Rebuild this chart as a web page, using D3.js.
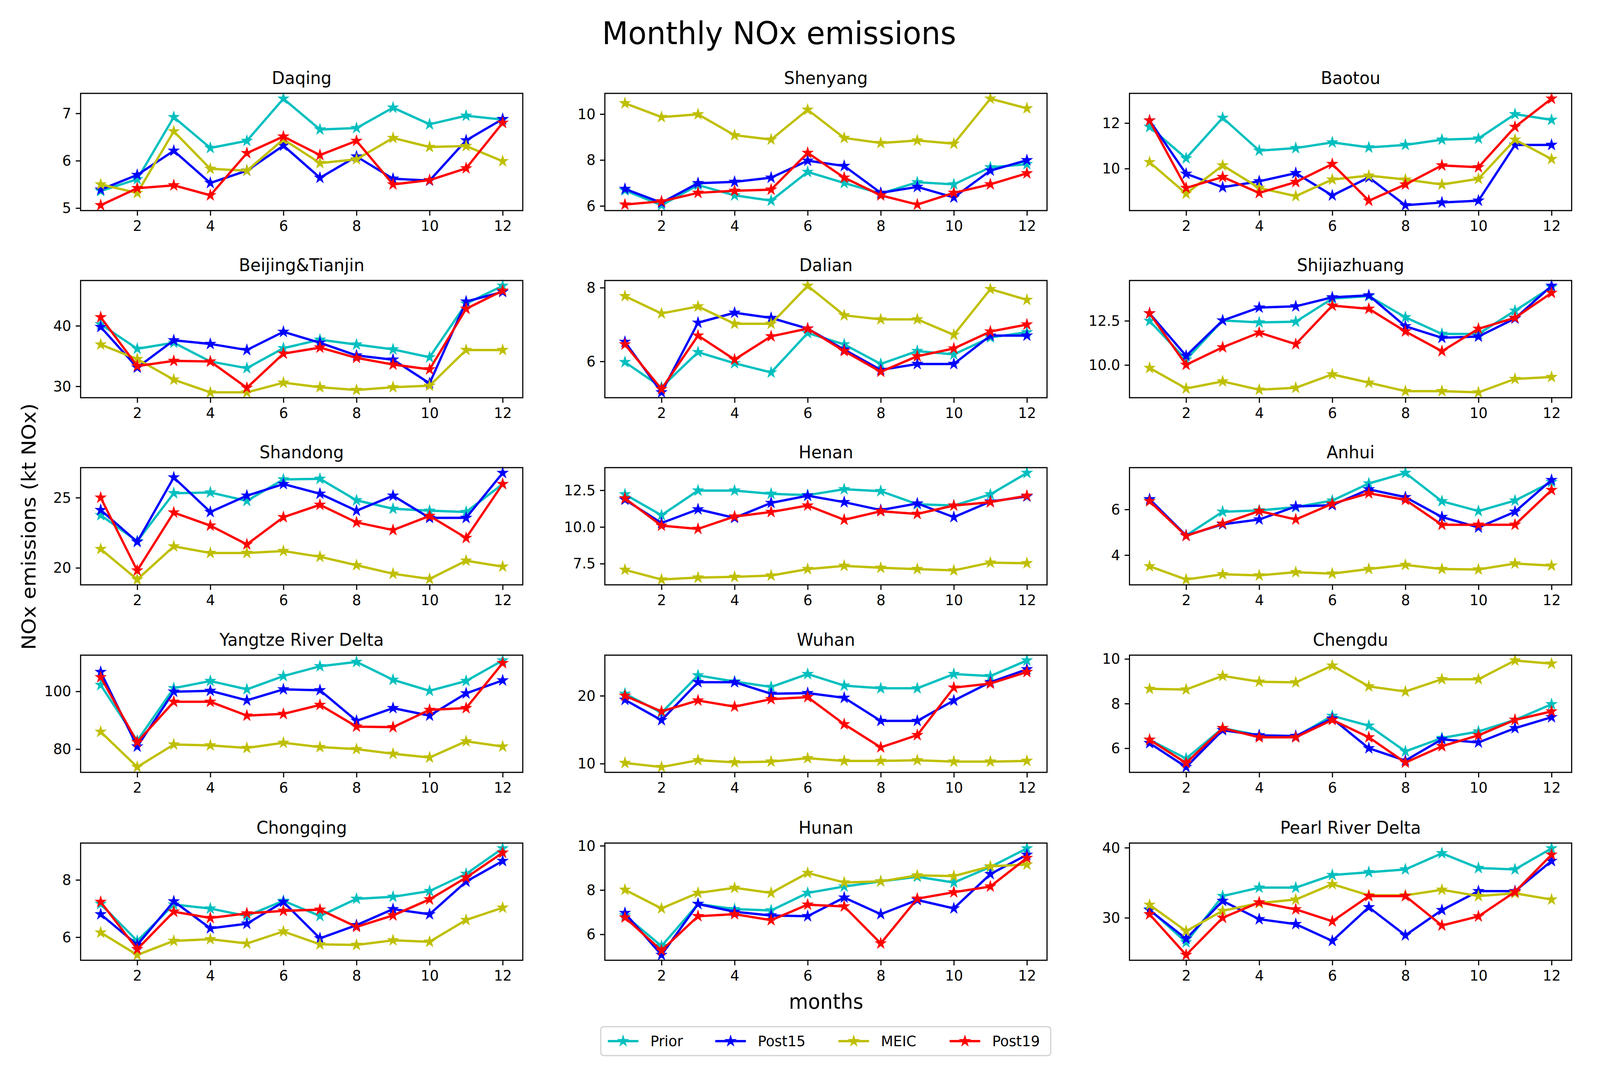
<!DOCTYPE html>
<html><head><meta charset="utf-8">
<script src="https://cdn.jsdelivr.net/npm/d3@7/dist/d3.min.js"></script>
<style>
html,body{margin:0;padding:0;width:100%;height:100%;overflow:hidden;background:#fff}
svg{display:block;width:100vw;height:100vh}
text{font-family:"DejaVu Sans",sans-serif;fill:#000}
</style>
</head><body>
<svg id="chart" viewBox="0 0 4288 2744" preserveAspectRatio="none"></svg>
<script>
// ---------------- data ----------------
const months = [1,2,3,4,5,6,7,8,9,10,11,12];
const xTickLabels = ["2","4","6","8","10","12"];
const regions = ["Daqing","Shenyang","Baotou","Beijing&Tianjin","Dalian","Shijiazhuang",
  "Shandong","Henan","Anhui","Yangtze River Delta","Wuhan","Chengdu","Chongqing","Hunan","Pearl River Delta"];
const yTickLabels = [["5","6","7"],["6","8","10"],["10","12"],["30","40"],["6","8"],["10.0","12.5"],
  ["20","25"],["7.5","10.0","12.5"],["4","6"],["80","100"],["10","20"],["6","8","10"],["6","8"],["6","8","10"],["30","40"]];
const seriesNames = ["Prior","Post15","MEIC","Post19"];

const prior = [
  [5.36,5.61,6.92,6.27,6.42,7.31,6.66,6.69,7.12,6.77,6.95,6.87],
  [6.68,6.03,6.91,6.46,6.23,7.48,7.00,6.54,7.03,6.94,7.68,7.82],
  [11.83,10.45,12.23,10.79,10.90,11.15,10.93,11.04,11.27,11.32,12.39,12.14],
  [40.25,36.2,37.2,34.1,33.0,36.3,37.7,36.9,36.1,34.8,43.65,46.6],
  [5.98,5.30,6.25,5.95,5.70,6.77,6.46,5.93,6.28,6.19,6.65,6.79],
  [12.49,10.30,12.52,12.41,12.45,13.76,13.90,12.70,11.76,11.76,13.07,14.41],
  [23.75,21.9,25.32,25.37,24.77,26.3,26.34,24.81,24.21,24.07,23.98,25.97],
  [12.22,10.80,12.48,12.48,12.26,12.17,12.57,12.44,11.55,11.46,12.22,13.68],
  [6.42,4.86,5.90,5.96,6.10,6.39,7.14,7.60,6.36,5.93,6.39,7.20],
  [102.2,82.9,101.1,103.6,100.7,105.3,108.7,110.2,104.0,100.2,103.6,110.7],
  [20.3,17.5,23.0,22.1,21.3,23.2,21.5,21.1,21.1,23.2,22.9,25.2],
  [6.38,5.54,6.90,6.58,6.52,7.45,7.01,5.86,6.46,6.75,7.27,7.97],
  [7.16,5.87,7.14,7.00,6.74,7.27,6.74,7.34,7.41,7.61,8.21,9.10],
  [6.85,5.47,7.37,7.14,7.08,7.87,8.16,8.39,8.60,8.34,9.04,9.88],
  [31.2,26.5,33.1,34.3,34.3,36.1,36.5,36.9,39.2,37.1,36.9,39.9]
];
const post15 = [
  [5.39,5.70,6.21,5.53,5.79,6.32,5.64,6.09,5.62,5.58,6.43,6.88],
  [6.74,6.14,6.99,7.05,7.23,7.97,7.74,6.57,6.83,6.37,7.54,7.99],
  [12.11,9.77,9.18,9.44,9.80,8.82,9.61,8.39,8.51,8.59,11.04,11.04],
  [39.8,33.1,37.6,37.0,36.0,39.0,37.2,35.1,34.4,30.5,44.0,45.6],
  [6.53,5.16,7.05,7.32,7.18,6.89,6.32,5.77,5.93,5.93,6.70,6.70],
  [12.92,10.52,12.52,13.25,13.32,13.83,13.94,12.19,11.54,11.61,12.63,14.48],
  [24.12,21.85,26.44,23.98,25.14,25.97,25.28,24.07,25.14,23.56,23.56,26.76],
  [11.86,10.27,11.20,10.62,11.64,12.13,11.69,11.15,11.60,10.67,11.73,12.08],
  [6.45,4.86,5.35,5.56,6.13,6.19,6.88,6.54,5.67,5.21,5.90,7.29],
  [106.7,80.9,99.9,100.2,96.9,100.7,100.4,89.8,94.2,91.6,99.3,103.8],
  [19.4,16.4,22.0,22.0,20.3,20.4,19.7,16.3,16.3,19.3,22.0,23.9],
  [6.23,5.16,6.81,6.58,6.55,7.33,6.00,5.45,6.40,6.26,6.90,7.39],
  [6.80,5.73,7.25,6.31,6.47,7.23,5.96,6.42,6.98,6.80,7.94,8.66],
  [6.96,5.07,7.37,7.02,6.85,6.82,7.66,6.91,7.55,7.17,8.72,9.59],
  [31.1,27.0,32.4,29.8,29.1,26.7,31.5,27.5,31.1,33.8,33.8,38.1]
];
const meic = [
  [5.50,5.32,6.62,5.83,5.79,6.45,5.95,6.03,6.48,6.29,6.31,5.99],
  [10.47,9.87,9.99,9.08,8.89,10.19,8.96,8.74,8.85,8.71,10.67,10.25],
  [10.28,8.90,10.14,9.15,8.79,9.52,9.69,9.52,9.30,9.55,11.27,10.42],
  [36.9,34.5,31.1,29.0,29.0,30.6,29.85,29.4,29.85,30.1,36.0,36.0],
  [7.77,7.30,7.49,7.02,7.02,8.05,7.25,7.14,7.14,6.72,7.96,7.67],
  [9.83,8.67,9.07,8.60,8.71,9.47,9.00,8.52,8.52,8.45,9.21,9.32],
  [21.34,19.17,21.53,21.06,21.06,21.2,20.79,20.19,19.58,19.21,20.51,20.09],
  [7.08,6.42,6.55,6.60,6.69,7.13,7.35,7.22,7.13,7.04,7.57,7.53],
  [3.51,2.93,3.16,3.11,3.25,3.19,3.39,3.57,3.39,3.37,3.63,3.54],
  [86.0,73.8,81.6,81.3,80.4,82.2,80.7,80.0,78.4,77.1,82.7,80.9],
  [10.1,9.5,10.5,10.2,10.3,10.8,10.4,10.4,10.5,10.3,10.3,10.4],
  [8.66,8.63,9.24,8.98,8.95,9.70,8.77,8.54,9.09,9.09,9.93,9.79],
  [6.16,5.38,5.87,5.93,5.78,6.20,5.75,5.73,5.89,5.84,6.60,7.03],
  [8.01,7.17,7.87,8.10,7.87,8.77,8.34,8.39,8.66,8.63,9.07,9.15],
  [31.85,28.1,31.0,32.1,32.6,34.8,33.2,33.2,34.0,33.1,33.5,32.6]
];
const post19 = [
  [5.06,5.42,5.48,5.27,6.16,6.51,6.12,6.42,5.50,5.59,5.84,6.80],
  [6.06,6.20,6.57,6.66,6.71,8.31,7.23,6.46,6.06,6.57,6.94,7.42],
  [12.11,9.15,9.63,8.93,9.41,10.20,8.59,9.30,10.14,10.06,11.83,13.07],
  [41.4,33.35,34.2,34.1,29.75,35.4,36.4,34.7,33.6,32.8,42.8,45.8],
  [6.46,5.25,6.70,6.05,6.68,6.89,6.28,5.72,6.14,6.35,6.81,7.00],
  [12.92,10.01,11.00,11.83,11.18,13.36,13.18,11.90,10.78,12.05,12.67,14.08],
  [25.0,19.81,23.94,23.01,21.67,23.61,24.49,23.24,22.69,23.70,22.13,25.97],
  [11.95,10.09,9.87,10.71,11.02,11.46,10.49,11.07,10.89,11.46,11.69,12.13],
  [6.36,4.84,5.38,5.93,5.56,6.25,6.71,6.42,5.33,5.33,5.33,6.85],
  [104.9,82.4,96.4,96.4,91.6,92.2,95.3,87.8,87.6,93.6,94.2,109.8],
  [20.0,17.7,19.3,18.4,19.5,19.8,15.8,12.4,14.2,21.2,21.8,23.5],
  [6.38,5.34,6.90,6.49,6.49,7.27,6.49,5.36,6.09,6.58,7.27,7.65],
  [7.23,5.58,6.89,6.67,6.83,6.92,6.96,6.36,6.76,7.32,8.08,8.95],
  [6.76,5.27,6.82,6.91,6.64,7.34,7.26,5.59,7.61,7.90,8.16,9.45],
  [30.5,24.7,30.0,32.2,31.2,29.5,33.1,33.1,28.9,30.2,33.7,39.0]
];

// ---------------- layout / style ----------------
const seriesColors = ["#00bfbf","#0000ff","#bfbf00","#ff0000"];
const series = [prior, post15, meic, post19];
const colLeft = [216, 1621, 3027], rowTop = [239, 718, 1197, 1677, 2158];
const W = 1185, H = 300;
const tickFont = 38, titleFont = 45, lineW = 6, starSize = 250;

const svg = d3.select("#chart");
svg.append("rect").attr("width",4288).attr("height",2744).attr("fill","#fff");

const star = d3.symbol().type(d3.symbolStar).size(starSize);

regions.forEach((name, i) => {
  const r = Math.floor(i / 3), c = i % 3;
  const g = svg.append("g").attr("transform", `translate(${colLeft[c]},${rowTop[r]})`);
  const x = d3.scaleLinear().domain([1 - 0.55, 12 + 0.55]).range([0, W]);
  const all = series.flatMap(s => s[i]);
  const [mn, mx] = d3.extent(all);
  const pad = (mx - mn) * 0.05;
  const y = d3.scaleLinear().domain([mn - pad, mx + pad]).range([H, 0]);

  const labs = yTickLabels[i];
  const ya = d3.axisLeft(y).tickValues(labs.map(Number)).tickFormat((d, k) => labs[k])
    .tickSize(13).tickPadding(12);
  const xa = d3.axisBottom(x).tickValues(xTickLabels.map(Number)).tickFormat((d, k) => xTickLabels[k])
    .tickSize(13).tickPadding(12);

  const gy = g.append("g").call(ya);
  const gx = g.append("g").attr("transform", `translate(0,${H})`).call(xa);
  [gx, gy].forEach(ax => {
    ax.select(".domain").remove();
    ax.selectAll(".tick line").attr("stroke", "#000").attr("stroke-width", 3);
    ax.selectAll(".tick text").attr("font-size", tickFont).attr("font-family", "DejaVu Sans").attr("fill", "#000");
  });

  const plot = g.append("g");
  const line = d3.line().x((d, j) => x(months[j])).y(d => y(d));
  series.forEach((s, k) => {
    plot.append("path").datum(s[i]).attr("d", line)
      .attr("fill", "none").attr("stroke", seriesColors[k]).attr("stroke-width", lineW)
      .attr("stroke-linejoin", "round").attr("stroke-linecap", "round");
    plot.selectAll(null).data(s[i]).enter().append("path")
      .attr("d", star)
      .attr("transform", (d, j) => `translate(${x(months[j])},${y(d)})`)
      .attr("fill", seriesColors[k]).attr("stroke", seriesColors[k]).attr("stroke-width", 1.5);
  });

  g.append("rect").attr("width", W).attr("height", H).attr("fill", "none")
    .attr("stroke", "#000").attr("stroke-width", 3);

  g.append("text").attr("x", W / 2).attr("y", -24).attr("text-anchor", "middle")
    .attr("font-size", titleFont).text(name);
});

// figure texts
svg.append("text").attr("x", 2088).attr("y", 113).attr("text-anchor", "middle")
  .attr("font-size", 81).text("Monthly NOx emissions");
svg.append("text").attr("x", 2214).attr("y", 2582).attr("text-anchor", "middle")
  .attr("font-size", 53).text("months");
svg.append("text").attr("transform", "translate(95,1348) rotate(-90)").attr("text-anchor", "middle")
  .attr("font-size", 53).text("NOx emissions (kt NOx)");

// legend
const lg = svg.append("g");
lg.append("rect").attr("x", 1610).attr("y", 2628).attr("width", 1206).attr("height", 74)
  .attr("rx", 8).attr("fill", "#fff").attr("stroke", "#d0d0d0").attr("stroke-width", 3);
const legX = [1629, 1917, 2247, 2545];
seriesNames.forEach((nm, k) => {
  const x0 = legX[k], yy = 2665;
  lg.append("line").attr("x1", x0).attr("x2", x0 + 82).attr("y1", yy).attr("y2", yy)
    .attr("stroke", seriesColors[k]).attr("stroke-width", lineW);
  lg.append("path").attr("d", star).attr("transform", `translate(${x0 + 41},${yy})`)
    .attr("fill", seriesColors[k]).attr("stroke", seriesColors[k]).attr("stroke-width", 1.5);
  lg.append("text").attr("x", x0 + 114).attr("y", yy).attr("dy", "0.35em")
    .attr("font-size", 38).text(nm);
});
</script>
</body></html>
